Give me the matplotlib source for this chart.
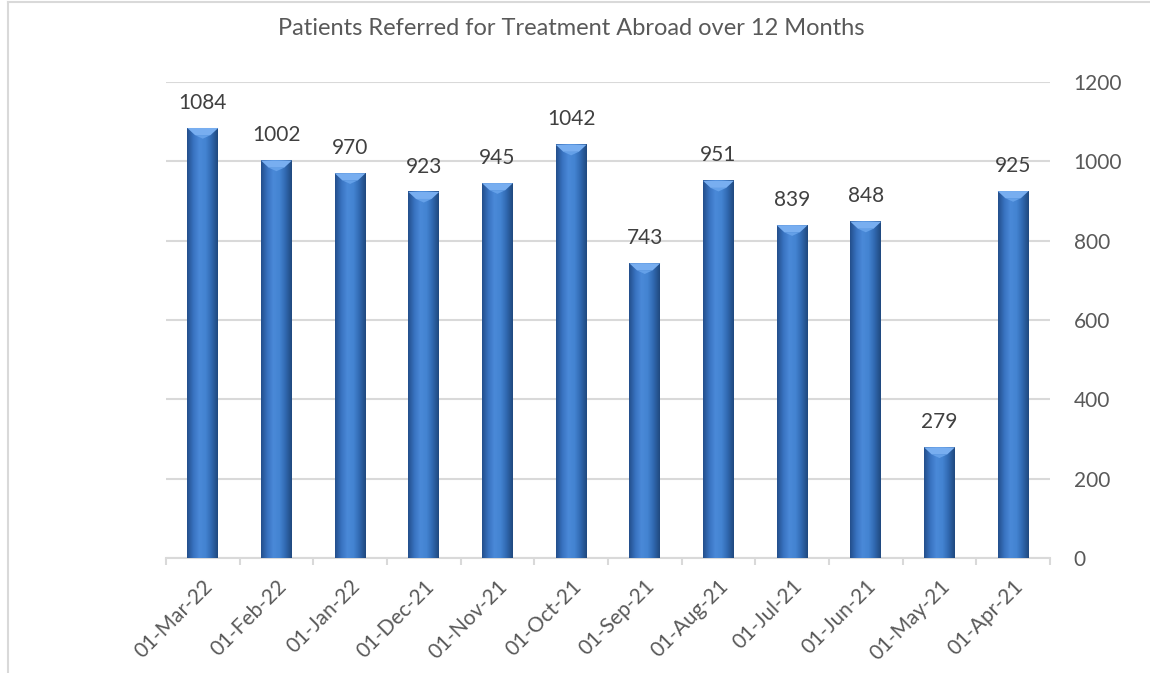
import numpy as np
import matplotlib
matplotlib.use("Agg")
from matplotlib import pyplot as plt
from matplotlib.lines import Line2D
from matplotlib.patches import Polygon
from matplotlib.colors import LinearSegmentedColormap

months = ["01-Mar-22", "01-Feb-22", "01-Jan-22", "01-Dec-21", "01-Nov-21", "01-Oct-21",
          "01-Sep-21", "01-Aug-21", "01-Jul-21", "01-Jun-21", "01-May-21", "01-Apr-21"]
patients = [1084, 1002, 970, 923, 945, 1042, 743, 951, 839, 848, 279, 925]
y_ticks = [0, 200, 400, 600, 800, 1000, 1200]

TEXT = "#595959"
GRID = "#d9d9d9"
BAR_W = 0.42

plt.rcParams["font.family"] = ["Lato", "DejaVu Sans"]

fig = plt.figure(figsize=(11.5, 6.73), dpi=100)
ax = fig.add_axes([0.1443, 0.1709, 0.7687, 0.7073])

x = np.arange(len(months))
bars = ax.bar(x, patients, width=BAR_W, color="#3b76c4", zorder=2)

# horizontal shading across each bar, Excel bevel look
shade = LinearSegmentedColormap.from_list(
    "shade", ["#234f8c", "#3872c0", "#4a89d8", "#4484d2", "#3068b0", "#20497f"])
grad = np.linspace(0, 1, 64).reshape(1, -1)
bevel_h = 18
for b in bars:
    x0, x1, top = b.get_x(), b.get_x() + b.get_width(), b.get_height()
    ax.imshow(grad, cmap=shade, extent=(x0, x1, 0, top), aspect="auto",
              zorder=3, interpolation="bilinear")
    w = x1 - x0
    ax.add_patch(Polygon([(x0, top), (x1, top), (x1 - w * 0.25, top - bevel_h),
                          (x0 + w * 0.25, top - bevel_h)],
                         closed=True, color="#78aef0", lw=0, zorder=4))
    ax.add_patch(Polygon([(x0 + w * 0.25, top - bevel_h), (x1 - w * 0.25, top - bevel_h),
                          (x0 + w * 0.5, top - bevel_h * 1.5)],
                         closed=True, color="#64a0e8", lw=0, zorder=4))
    ax.annotate(f"{top}", (b.get_x() + w / 2, top), xytext=(0, 11),
                textcoords="offset points", ha="center", va="bottom",
                fontsize=15, color="#404040", zorder=5)

ax.set_xlim(-0.5, len(months) - 0.5)
ax.set_ylim(0, 1200)
ax.set_yticks(y_ticks)
ax.yaxis.tick_right()
ax.tick_params(axis="y", length=0, pad=17, labelsize=15, labelcolor=TEXT)
ax.grid(axis="y", color=GRID, lw=1.5, zorder=0)
ax.set_axisbelow(True)

ax.set_xticks(x)
ax.set_xticklabels(months, rotation=45, ha="right", rotation_mode="anchor")
ax.set_xticks(np.arange(-0.5, len(months)), minor=True)
ax.tick_params(axis="x", which="major", length=0, pad=13, labelsize=15, labelcolor=TEXT)
ax.tick_params(axis="x", which="minor", length=5, width=1.5, color=GRID)

for side in ["top", "left", "right"]:
    ax.spines[side].set_visible(False)
ax.spines["bottom"].set_color(GRID)
ax.spines["bottom"].set_linewidth(1.5)

fig.text(0.497, 0.958, "Patients Referred for Treatment Abroad over 12 Months",
         ha="center", va="center", fontsize=17, color=TEXT)

# chart frame (left and top edges visible)
fig.add_artist(Line2D([8 / 1150, 8 / 1150], [0, 1 - 2 / 673], transform=fig.transFigure,
                      color=GRID, lw=1.5))
fig.add_artist(Line2D([8 / 1150, 1], [1 - 2 / 673, 1 - 2 / 673], transform=fig.transFigure,
                      color=GRID, lw=1.5))

fig.savefig("out.png", dpi=100, facecolor="white")
